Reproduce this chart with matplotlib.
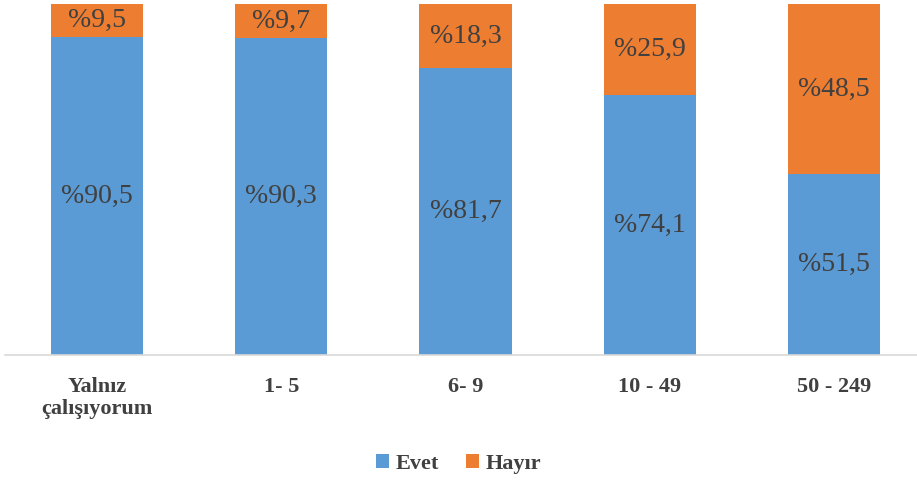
import matplotlib.pyplot as plt
import numpy as np

categories = ["Yalnız\nçalışıyorum", "1- 5", "6- 9", "10 - 49", "50 - 249"]
evet = [90.5, 90.3, 81.7, 74.1, 51.5]
hayir = [9.5, 9.7, 18.3, 25.9, 48.5]

blue = "#5B9BD5"
orange = "#ED7D31"
text_color = "#404040"

plt.rcParams['font.family'] = ['Liberation Serif', 'DejaVu Serif']

fig = plt.figure(figsize=(9.17, 4.8), dpi=100)
ax = fig.add_axes([5 / 917, 1 - 355 / 480, 921 / 917, 351 / 480])

x = np.arange(len(categories))
b1 = ax.bar(x, evet, width=0.5, color=blue, label="Evet")
b2 = ax.bar(x, hayir, width=0.5, bottom=evet, color=orange, label="Hayır")

for i in range(len(categories)):
    ax.text(x[i], evet[i] / 2, f"%{evet[i]:.1f}".replace(".", ","),
            ha="center", va="center", fontsize=20, color=text_color)
    ax.text(x[i], evet[i] + hayir[i] / 2, f"%{hayir[i]:.1f}".replace(".", ","),
            ha="center", va="center", fontsize=20, color=text_color)

ax.set_xlim(-0.5, 4.5)
ax.set_ylim(0, 100)
ax.set_yticks([])
ax.set_xticks(x)
ax.set_xticklabels(categories, fontsize=16, fontweight="bold", color=text_color,
                   linespacing=1.12)
ax.tick_params(axis="x", length=0, pad=16)
for s in ["top", "right", "left"]:
    ax.spines[s].set_visible(False)
ax.spines["bottom"].set_color("#D9D9D9")
ax.spines["bottom"].set_linewidth(1.2)

leg = fig.legend(handles=[b1, b2], loc="center", bbox_to_anchor=(0.5, 1 - 464 / 480),
                 ncol=2, frameon=False, handlelength=0.6, handleheight=0.6,
                 handletextpad=0.3, columnspacing=1.2,
                 prop={"size": 16, "weight": "bold"})
for t in leg.get_texts():
    t.set_color(text_color)

fig.savefig("out.png", dpi=100)
